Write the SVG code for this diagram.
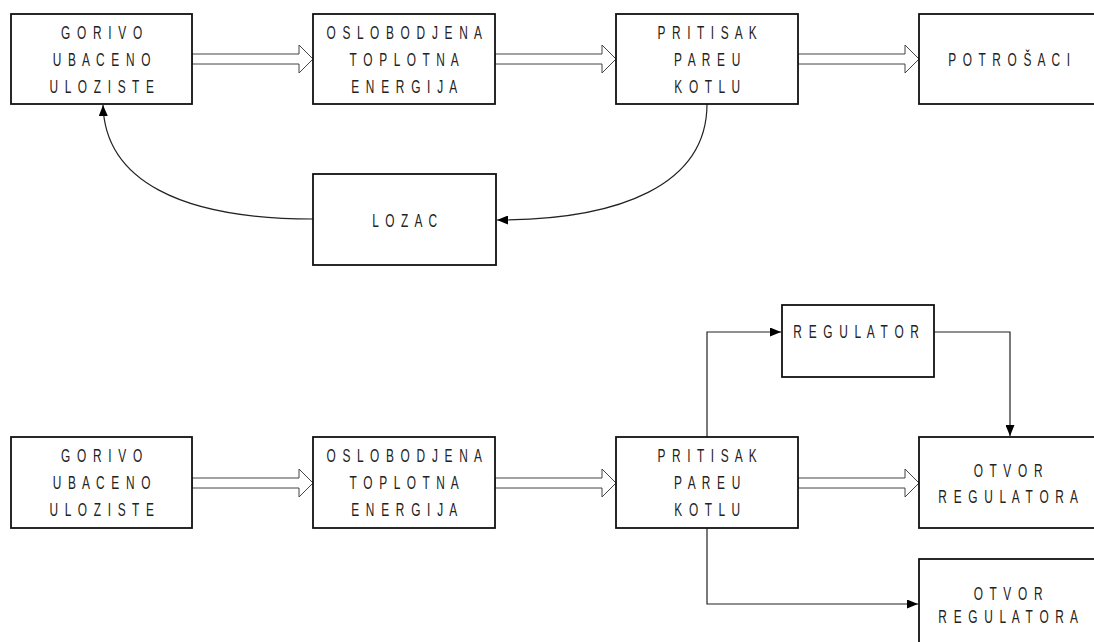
<svg xmlns="http://www.w3.org/2000/svg" width="1094" height="642" viewBox="0 0 1094 642">
<defs>
<style>
.box{fill:#fff;stroke:#111;stroke-width:1.8}
.hol{fill:#fff;stroke:#444;stroke-width:1}
.ln{fill:none;stroke:#222;stroke-width:1.2}
.t{font-family:"Liberation Sans",Arial,sans-serif;font-size:18px;fill:#222;letter-spacing:2.6px;text-anchor:middle}
</style>
<marker id="ah" markerUnits="userSpaceOnUse" markerWidth="11" markerHeight="9" refX="11" refY="4.5" orient="auto">
<path d="M0,0 L11,4.5 L0,9 z" fill="#000"/>
</marker>
</defs>
<rect width="1094" height="642" fill="#fff"/>
<g id="connectors">
<polygon class="hol" points="192,54 299,54 299,45 313,59 299,73 299,64 192,64"/>
<polygon class="hol" points="495,54 602,54 602,45 616,59 602,73 602,64 495,64"/>
<polygon class="hol" points="798,54 905,54 905,45 919,59 905,73 905,64 798,64"/>
<path class="ln" d="M707,104 C707,185 620,220 497,220" marker-end="url(#ah)"/>
<path class="ln" d="M313,219 C180,219 105,180 103,105" marker-end="url(#ah)"/>
<polygon class="hol" points="192,478 299,478 299,469 313,483 299,497 299,488 192,488"/>
<polygon class="hol" points="495,478 602,478 602,469 616,483 602,497 602,488 495,488"/>
<polygon class="hol" points="798,478 905,478 905,469 919,483 905,497 905,488 798,488"/>
<path class="ln" d="M707,437 L707,332 L781,332" marker-end="url(#ah)"/>
<path class="ln" d="M934,332 L1010,332 L1010,436" marker-end="url(#ah)"/>
<path class="ln" d="M707,528 L707,604 L918,604" marker-end="url(#ah)"/>
</g>
<g id="gorivo1">
<rect class="box" x="11" y="14" width="181" height="90"/>
<text class="t" transform="translate(102.5,38.5) scale(0.66,1)">G O R I V O</text>
<text class="t" transform="translate(102.5,65.5) scale(0.66,1)">U B A C E N O</text>
<text class="t" transform="translate(102.5,92.5) scale(0.66,1)">U L O Z I S T E</text>
</g>
<g id="energija1">
<rect class="box" x="313" y="14" width="182" height="90"/>
<text class="t" transform="translate(405,38.5) scale(0.66,1)">O S L O B O D J E N A</text>
<text class="t" transform="translate(405,65.5) scale(0.66,1)">T O P L O T N A</text>
<text class="t" transform="translate(405,92.5) scale(0.66,1)">E N E R G I J A</text>
</g>
<g id="pritisak1">
<rect class="box" x="616" y="14" width="182" height="90"/>
<text class="t" transform="translate(708,38.5) scale(0.66,1)">P R I T I S A K</text>
<text class="t" transform="translate(708,65.5) scale(0.66,1)">P A R E U</text>
<text class="t" transform="translate(708,92.5) scale(0.66,1)">K O T L U</text>
</g>
<g id="potrosaci">
<rect class="box" x="919" y="14" width="181" height="90"/>
<text class="t" transform="translate(1010,65.5) scale(0.66,1)">P O T R O Š A C I</text>
</g>
<g id="lozac">
<rect class="box" x="313" y="174" width="183" height="91"/>
<text class="t" transform="translate(405.5,226.5) scale(0.66,1)">L O Z A C</text>
</g>
<g id="gorivo2">
<rect class="box" x="11" y="437" width="181" height="91"/>
<text class="t" transform="translate(102.5,462) scale(0.66,1)">G O R I V O</text>
<text class="t" transform="translate(102.5,489) scale(0.66,1)">U B A C E N O</text>
<text class="t" transform="translate(102.5,516) scale(0.66,1)">U L O Z I S T E</text>
</g>
<g id="energija2">
<rect class="box" x="313" y="437" width="182" height="91"/>
<text class="t" transform="translate(405,462) scale(0.66,1)">O S L O B O D J E N A</text>
<text class="t" transform="translate(405,489) scale(0.66,1)">T O P L O T N A</text>
<text class="t" transform="translate(405,516) scale(0.66,1)">E N E R G I J A</text>
</g>
<g id="pritisak2">
<rect class="box" x="616" y="437" width="182" height="91"/>
<text class="t" transform="translate(708,462) scale(0.66,1)">P R I T I S A K</text>
<text class="t" transform="translate(708,489) scale(0.66,1)">P A R E U</text>
<text class="t" transform="translate(708,516) scale(0.66,1)">K O T L U</text>
</g>
<g id="regulator">
<rect class="box" x="782" y="305" width="152" height="72"/>
<text class="t" transform="translate(857,338) scale(0.66,1)">R E G U L A T O R</text>
</g>
<g id="otvor1">
<rect class="box" x="919" y="437" width="181" height="91"/>
<text class="t" transform="translate(1009,476.5) scale(0.66,1)">O T V O R</text>
<text class="t" transform="translate(1009,502.5) scale(0.66,1)">R E G U L A T O R A</text>
</g>
<g id="otvor2">
<rect class="box" x="919" y="559" width="181" height="91"/>
<text class="t" transform="translate(1009,600) scale(0.66,1)">O T V O R</text>
<text class="t" transform="translate(1009,623) scale(0.66,1)">R E G U L A T O R A</text>
</g>
</svg>
